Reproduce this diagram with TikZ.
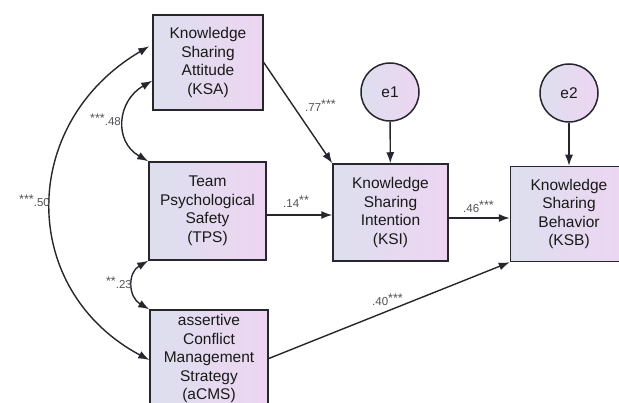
\documentclass[tikz,border=0pt]{standalone}
\usepackage{fontspec}
\setmainfont{Liberation Sans}
\usetikzlibrary{arrows.meta,calc}

\definecolor{boxleft}{RGB}{221,223,239}
\definecolor{boxright}{RGB}{237,213,241}
\definecolor{edgegray}{RGB}{38,38,44}
\definecolor{coefgray}{RGB}{80,80,86}

\newcommand{\sig}[1]{\raisebox{3pt}{\fontsize{12.5}{12.5}\selectfont#1}}

\tikzset{
  obsbox/.style={draw=edgegray, line width=1.5pt, left color=boxleft, right color=boxright,
    align=center, inner sep=0pt, text=black!90,
    font=\fontsize{15.5}{18.5}\selectfont},
  errcirc/.style={obsbox, circle, minimum size=58pt},
  effect/.style={draw=edgegray, line width=1.4pt, -{Latex[length=11pt,width=8pt]}},
  corr/.style={draw=edgegray, line width=1.4pt, {Latex[length=11pt,width=8pt]}-{Latex[length=11pt,width=8pt]}},
  weight/.style={text=coefgray, inner sep=0pt, font=\fontsize{11.5}{12}\selectfont}
}

\begin{document}
\begin{tikzpicture}[x=1pt, y=-1pt]
\useasboundingbox (0,0) rectangle (619,403);
\clip (0,0) rectangle (619,403);

% observed variables
\node [obsbox, minimum width=110pt, minimum height=95pt] (KSA) at (208,62.5)
  {Knowledge\\Sharing\\Attitude\\(KSA)};
\node [obsbox, minimum width=117pt, minimum height=98pt] (TPS) at (207.5,211)
  {Team\\Psychological\\Safety\\(TPS)};
\node [obsbox, minimum width=118pt, minimum height=97pt] (aCMS) at (209,358.5)
  {assertive\\Conflict\\Management\\Strategy\\(aCMS)};
\node [obsbox, minimum width=115pt, minimum height=97pt] (KSI) at (390.5,212.5)
  {Knowledge\\Sharing\\Intention\\(KSI)};
\node [obsbox, minimum width=117pt, minimum height=95pt] (KSB) at (569,214)
  {Knowledge\\Sharing\\Behavior\\(KSB)};

% error terms
\node [errcirc] (e1) at (390,92) {e1};
\node [errcirc] (e2) at (569,93) {e2};

% regression paths
\draw [effect] (KSA.east) -- (KSI.north west);
\draw [effect] (TPS.east |- 0,215) -- (KSI.west |- 0,215);
\draw [effect] (KSI.east |- 0,218) -- (KSB.west |- 0,218);
\draw [effect] (aCMS.east) -- (KSB.south west);
\draw [effect] (e1) -- (KSI);
\draw [effect] (e2) -- (KSB);

% covariances
\draw [corr] ($(KSA.south west)+(0,-30)$) .. controls +(-35,20) and +(-35,-20) .. (TPS.north west);
\draw [corr] (TPS.south west) .. controls +(-21,12) and +(-21,-12) .. (aCMS.north west);
\draw [corr] ($(KSA.north west)+(-3,32)$) .. controls +(-131,77) and +(-131,-70) .. ($(aCMS.west)+(0,1.5)$);

% estimates
\node [weight, anchor=base west] (w77) at (305,112) {.77\sig{***}};
\node [weight, anchor=base west] (w14) at (283,208) {.14\sig{**}};
\node [weight, anchor=base west] (w46) at (463,213) {.46\sig{***}};
\node [weight, anchor=base west] (w40) at (372,306) {.40\sig{***}};
\node [weight, anchor=base east] (w48) at (121,126) {\sig{***}.48};
\node [weight, anchor=base east] (w23) at (132,289) {\sig{**}.23};
\node [weight, anchor=base east] (w50) at (50,207) {\sig{***}.50};

\end{tikzpicture}
\end{document}
